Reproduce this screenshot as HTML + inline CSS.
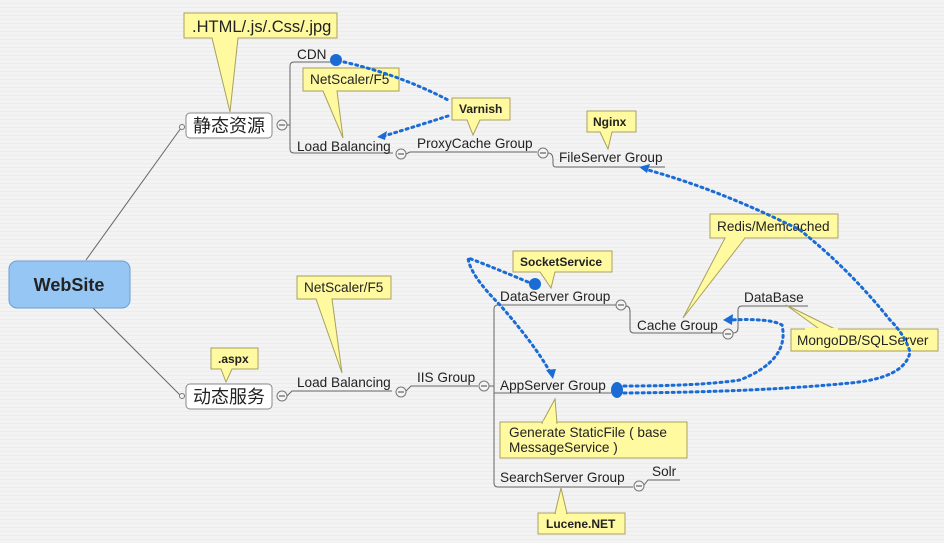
<!DOCTYPE html>
<html><head><meta charset="utf-8"><style>
html,body{margin:0;padding:0;background:#f3f3f3;}
svg{display:block;}
text{font-family:"Liberation Sans","Noto Sans CJK SC",sans-serif;fill:#222;}
.t{font-size:13.6px;}
.b{font-weight:bold;font-size:12px;}
.c{fill:#fff9a0;stroke:#a8a060;stroke-width:1;}
.ln{stroke:#666;stroke-width:1;fill:none;}
.d{stroke:#1a6cd4;stroke-width:3;stroke-dasharray:2 4;stroke-linecap:round;fill:none;}
.k{fill:#f4f4f4;stroke:#777;stroke-width:1;}
</style></head><body>
<svg width="944" height="543" viewBox="0 0 944 543" xmlns="http://www.w3.org/2000/svg">
<defs>
<pattern id="p" width="4" height="4" patternUnits="userSpaceOnUse"><rect width="4" height="4" fill="#f3f3f3"/><rect y="3" width="4" height="1" fill="#ececec"/></pattern>
</defs>
<rect width="944" height="543" fill="url(#p)"/>

<line class="ln" x1="86" y1="260" x2="181" y2="128"/>
<line class="ln" x1="93" y1="308" x2="181" y2="396"/>
<circle cx="182" cy="127" r="2.5" class="k"/>
<circle cx="182" cy="396" r="2.5" class="k"/>

<rect x="9" y="261" width="121" height="47" rx="8" fill="#96c6f4" stroke="#6a9ed0"/>
<text x="69" y="291" text-anchor="middle" style="font-weight:bold;font-size:18px;fill:#222">WebSite</text>

<path class="c" d="M184 13 H337 V38 H238 L230 112 L212 38 H184 Z" />
<text x="192" y="32" style="font-size:16.5px">.HTML/.js/.Css/.jpg</text>
<rect x="186" y="113" width="86" height="25" rx="4" fill="#fff" stroke="#888"/>
<text x="193" y="132" style="font-size:18px">静态资源</text>
<circle cx="282" cy="125" r="5" class="k"/><line x1="279" y1="125" x2="285" y2="125" stroke="#444"/>
<path class="ln" d="M287 125 H290 M294 62 H332 M290 66 V149 Q290 153 294 153 H393 M290 66 Q290 62 294 62"/>
<text x="297" y="59" class="t">CDN</text>
<text x="297" y="151" class="t">Load Balancing</text>
<path class="c" d="M303 68 H399 V91 H337 L343 138 L323 91 H303 Z"/>
<text x="310" y="84" class="t">NetScaler/F5</text>
<circle cx="401" cy="154" r="5" class="k"/><line x1="398" y1="154" x2="404" y2="154" stroke="#444"/>
<path class="ln" d="M406 154 L410 152 H537"/>
<text x="417" y="148" class="t">ProxyCache Group</text>
<circle cx="543" cy="153" r="5" class="k"/><line x1="540" y1="153" x2="546" y2="153" stroke="#444"/>
<path class="ln" d="M548 153 Q553 153 553 160 V164 Q553 167 556 167 H665"/>
<text x="559" y="162" class="t">FileServer Group</text>
<path class="c" d="M452 98 H510 V120 H480 L473 135 L467 120 H452 Z"/>
<text x="459" y="113" class="b">Varnish</text>
<path class="c" d="M587 111 H636 V132 H612 L608 149 L600 132 H587 Z"/>
<text x="593" y="126" class="b">Nginx</text>
<circle cx="336" cy="60" r="6" fill="#1a6cd4"/>
<path class="d" d="M344 62 Q400 75 448 100"/>
<path class="d" d="M448 116 Q420 125 384 136"/>
<path d="M377 137 L387 131 L385 140 Z" fill="#1a6cd4"/>

<path class="c" d="M211 348 H258 V369 H232 L226 382 L221 369 H211 Z"/>
<text x="218" y="363" class="b">.aspx</text>
<rect x="186" y="384" width="86" height="25" rx="4" fill="#fff" stroke="#888"/>
<text x="193" y="403" style="font-size:18px">动态服务</text>
<circle cx="282" cy="396" r="5" class="k"/><line x1="279" y1="396" x2="285" y2="396" stroke="#444"/>
<path class="ln" d="M287 396 L292 391 H392"/>
<text x="297" y="387" class="t">Load Balancing</text>
<path class="c" d="M297 276 H391 V299 H332 L342 373 L316 299 H297 Z"/>
<text x="304" y="292" class="t">NetScaler/F5</text>
<circle cx="401" cy="392" r="5" class="k"/><line x1="398" y1="392" x2="404" y2="392" stroke="#444"/>
<path class="ln" d="M406 391 L411 386 H478"/>
<text x="417" y="382" class="t">IIS Group</text>
<circle cx="484" cy="386" r="5" class="k"/><line x1="481" y1="386" x2="487" y2="386" stroke="#444"/>
<path class="ln" d="M489 386 H494 M498 305 H617 M494 309 V483 Q494 487 498 487 H633 M494 309 Q494 305 498 305 M494 393 H615"/>
<text x="500" y="301" class="t">DataServer Group</text>
<text x="500" y="390" class="t">AppServer Group</text>
<text x="500" y="482" class="t">SearchServer Group</text>
<circle cx="621" cy="305" r="5" class="k"/><line x1="618" y1="305" x2="624" y2="305" stroke="#444"/>
<path class="ln" d="M626 306 Q630 306 630 312 V329 Q630 333 634 333 H723"/>
<text x="637" y="330" class="t">Cache Group</text>
<circle cx="728" cy="334" r="5" class="k"/><line x1="725" y1="334" x2="731" y2="334" stroke="#444"/>
<path class="ln" d="M733 333 Q738 333 738 328 V310 Q738 306 742 306 H808"/>
<text x="744" y="302" class="t">DataBase</text>
<circle cx="639" cy="486" r="5" class="k"/><line x1="636" y1="486" x2="642" y2="486" stroke="#444"/>
<path class="ln" d="M644 485 L648 480 H680"/>
<text x="652" y="476" class="t">Solr</text>

<path class="c" d="M513 251 H612 V272 H555 L551 288 L540 272 H513 Z"/>
<text x="520" y="266" class="b">SocketService</text>
<path class="c" d="M500 422 H687 V458 H500 Z"/>
<path d="M542 423 L555 399 L557 423 Z" fill="#fff9a0" stroke="#a8a060"/>
<rect x="543" y="421" width="13" height="3" fill="#fff9a0"/>
<text x="509" y="437" class="t">Generate StaticFile ( base</text>
<text x="509" y="452" class="t">MessageService )</text>
<path class="c" d="M538 513 H625 V534 H538 Z"/>
<path d="M555 513.5 L561 488 L567 513.5 Z" fill="#fff9a0" stroke="#a8a060"/>
<rect x="556" y="511" width="10" height="3" fill="#fff9a0"/>
<text x="546" y="528" class="b">Lucene.NET</text>

<path class="c" d="M710 214 H838 V238 H745 L683 318 L725 238 H710 Z"/>
<text x="717" y="231" class="t">Redis/Memcached</text>
<path class="c" d="M791 329 H938 V351 H791 Z"/>
<path d="M786 305 L820 329.5 L836 329.5 Z" fill="#fff9a0" stroke="#a8a060"/>
<rect x="805" y="328" width="33" height="2" fill="#fff9a0"/>
<text x="797" y="345" class="t">MongoDB/SQLServer</text>

<circle cx="535" cy="284" r="6" fill="#1a6cd4"/>
<path class="d" d="M528 282 Q480 262 468 258 Q470 275 500 305 Q535 345 550 372"/>
<path d="M553 379 L546 370 L556 369 Z" fill="#1a6cd4"/>
<ellipse cx="617" cy="390" rx="6" ry="8" fill="#1a6cd4"/>
<path class="d" d="M624 386 Q700 386 740 380 Q790 360 782 325 Q770 318 730 320"/>
<path d="M723 320 L733 314 L732 325 Z" fill="#1a6cd4"/>
<path class="d" d="M624 393 Q760 392 850 383 Q905 378 910 352 Q905 335 890 320 Q850 270 800 230 Q720 190 648 170"/>
<path d="M639 167 L650 164 L647 173 Z" fill="#1a6cd4"/>
</svg>
</body></html>
